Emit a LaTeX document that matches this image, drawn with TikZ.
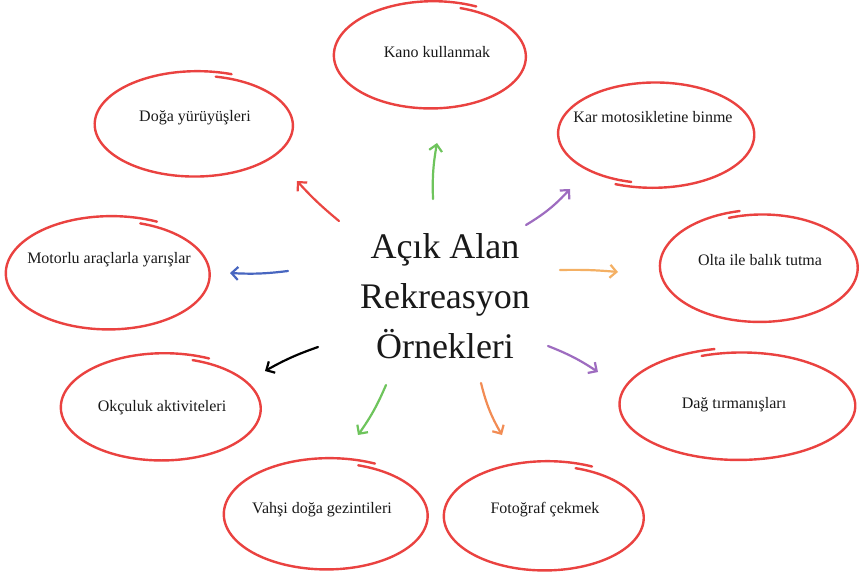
\documentclass[tikz,border=0pt]{standalone}
\usepackage{fontspec}
\setmainfont{Liberation Serif}
\usetikzlibrary{arrows.meta}
\definecolor{loopred}{RGB}{234,66,64}
\definecolor{agreen}{RGB}{110,196,92}
\definecolor{ared}{RGB}{234,70,66}
\definecolor{apurple}{RGB}{158,108,192}
\definecolor{ablue}{RGB}{72,102,192}
\definecolor{aorange}{RGB}{244,176,100}
\definecolor{aorangeb}{RGB}{242,140,84}
\definecolor{txt}{RGB}{25,25,25}
% hand-drawn loop: cx, cy, rx, ry, start angle, end angle
\newcommand{\handloop}[6]{%
  \draw[loopred, line width=2.4pt, line cap=round]
    plot[domain=#5:#6, samples=140, smooth, variable=\t]
    ({#1+(0.95+0.09*(\t-#5)/(#6-#5))*#3*cos(\t)},
     {#2+(0.95+0.09*(\t-#5)/(#6-#5))*#4*sin(\t)});
}
\tikzset{
  lbl/.style={font=\fontsize{16}{19}\selectfont, text=txt, inner sep=1pt},
  arr/.style={line width=2.2pt, line cap=round, -{Straight Barb[length=6.5pt,width=13pt,line width=2.2pt]}},
}
\begin{document}
\begin{tikzpicture}[x=1pt,y=-1pt]
\fill[white] (0,0) rectangle (863,583);
\useasboundingbox (0,0) rectangle (863,583);

% loops
\handloop{432}{56}{97}{53}{-72}{296}
\handloop{196}{125}{100}{52}{-78}{290}
\handloop{654}{134}{99}{52}{104}{472}
\handloop{110}{274}{103}{56}{-72}{296}
\handloop{761}{267}{99}{55}{-110}{258}
\handloop{163}{408}{101}{53}{-72}{296}
\handloop{740}{405}{118}{55}{-110}{258}
\handloop{328}{515}{103}{55}{-72}{296}
\handloop{546}{517}{101}{54}{-72}{296}

% labels
\node[lbl] (kano) at (437,52) {Kano kullanmak};
\node[lbl] (doga) at (195,118) {Doğa yürüyüşleri};
\node[lbl] (kar) at (653,117) {Kar motosikletine binme};
\node[lbl] (motor) at (109,260) {Motorlu araçlarla yarışlar};
\node[lbl] (olta) at (760,260) {Olta ile balık tutma};
\node[lbl] (okc) at (162,408) {Okçuluk aktiviteleri};
\node[lbl] (dag) at (734,405) {Dağ tırmanışları};
\node[lbl] (vahsi) at (322,510) {Vahşi doğa gezintileri};
\node[lbl] (foto) at (545,510) {Fotoğraf çekmek};

\node[align=center, text=txt, font=\fontsize{36}{50}\selectfont] (center) at (445,296)
  {Açık Alan\\Rekreasyon\\Örnekleri};

% arrow end points
\coordinate (s1) at (433,199); \coordinate (e1) at (437,143);
\coordinate (s2) at (339,221); \coordinate (e2) at (297,181);
\coordinate (s3) at (526,225); \coordinate (e3) at (570,189);
\coordinate (s4) at (288,271); \coordinate (e4) at (230,273);
\coordinate (s5) at (560,270); \coordinate (e5) at (618,272);
\coordinate (s6) at (318,347); \coordinate (e6) at (265,371);
\coordinate (s7) at (386,385); \coordinate (e7) at (358,435);
\coordinate (s8) at (481,383); \coordinate (e8) at (502,435);
\coordinate (s9) at (548,346); \coordinate (e9) at (598,372);

\draw[arr, agreen] (s1) to[bend left=6] (e1);
\draw[arr, ared] (s2) to[bend left=4] (e2);
\draw[arr, apurple] (s3) to[bend right=8] (e3);
\draw[arr, ablue] (s4) to[bend left=5] (e4);
\draw[arr, aorange] (s5) to[bend left=3] (e5);
\draw[arr, black] (s6) to[bend right=5] (e6);
\draw[arr, agreen] (s7) to[bend left=6] (e7);
\draw[arr, aorangeb] (s8) to[bend right=8] (e8);
\draw[arr, apurple] (s9) to[bend left=6] (e9);
\end{tikzpicture}
\end{document}
